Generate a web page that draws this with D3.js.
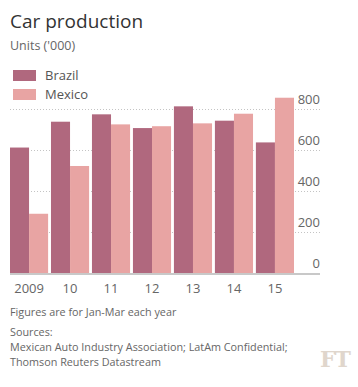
<!DOCTYPE html>
<html><head><meta charset="utf-8">
<script src="https://cdn.jsdelivr.net/npm/d3@7"></script>
<style>
body{margin:0;background:#fff;}
svg{display:block;font-family:"Open Sans",sans-serif;}
</style></head>
<body>
<script>
const years = ["2009","10","11","12","13","14","15"];
const brazil = [612, 738, 774, 707, 813, 743, 637];
const mexico = [289, 522, 725, 716, 730, 777, 855];
const yTicks = [0, 200, 400, 600, 800];
const seriesNames = ["Brazil", "Mexico"];
const colors = ["#b0687e", "#e8a4a3"];

const W = 358, H = 387;
const svg = d3.select("body").append("svg").attr("width", W).attr("height", H);

const x0 = d3.scaleBand().domain(years).range([10, 294]).paddingInner(0.07).paddingOuter(0);
const x1 = d3.scaleBand().domain(seriesNames).range([0, x0.bandwidth()]);
const y = d3.scaleLinear().domain([0, 800]).range([273, 109]);

// title
svg.append("text").attr("x", 10).attr("y", 28).attr("font-size", 19).attr("fill", "#333").text("Car production");
svg.append("text").attr("x", 10).attr("y", 50).attr("font-size", 12.5).attr("fill", "#666").text("Units ('000)");

// legend
seriesNames.forEach((s, i) => {
  svg.append("rect").attr("x", 13).attr("y", 70 + i * 19).attr("width", 23).attr("height", 11).attr("fill", colors[i]);
  svg.append("text").attr("x", 45).attr("y", 80 + i * 19).attr("font-size", 13).attr("fill", "#555").text(s);
});

// grid
const yAxis = d3.axisRight(y).tickValues(yTicks).tickSize(0).tickFormat(d3.format("d"));
const g = svg.append("g").attr("transform", "translate(320,0)").call(yAxis);
g.select(".domain").remove();
g.selectAll("text").attr("x", 0).attr("dy", "-0.45em").attr("text-anchor", "end")
  .attr("font-size", 13).attr("fill", "#666").attr("font-family", "Open Sans, sans-serif");
svg.append("g").selectAll("line").data(yTicks.filter(d => d > 0)).join("line")
  .attr("x1", 10).attr("x2", 320).attr("y1", d => y(d) + 0.5).attr("y2", d => y(d) + 0.5)
  .attr("stroke", "#c4c4c4").attr("stroke-width", 1).attr("stroke-dasharray", "1,2");

// bars
const data = years.map((yr, i) => ({yr, vals: [brazil[i], mexico[i]]}));
svg.append("g").selectAll("g").data(data).join("g")
  .attr("transform", d => `translate(${x0(d.yr)},0)`)
  .selectAll("rect").data(d => d.vals.map((v, i) => ({v, s: seriesNames[i], i})))
  .join("rect")
  .attr("x", d => x1(d.s)).attr("width", x1.bandwidth())
  .attr("y", d => y(d.v)).attr("height", d => y(0) - y(d.v))
  .attr("fill", d => colors[d.i]);

// baseline
svg.append("line").attr("x1", 10).attr("x2", 320).attr("y1", 274).attr("y2", 274)
  .attr("stroke", "#c8c8c8").attr("stroke-width", 2);

// x axis
const xAxis = d3.axisBottom(x0).tickSize(0);
const gx = svg.append("g").attr("transform", "translate(0,276)").call(xAxis);
gx.select(".domain").remove();
gx.selectAll("text").attr("font-size", 13).attr("fill", "#666").attr("dy", "1.05em")
  .attr("font-family", "Open Sans, sans-serif");

// footer
const foot = [["Figures are for Jan-Mar each year", 316], ["Sources:", 336], ["Mexican Auto Industry Association; LatAm Confidential;", 351], ["Thomson Reuters Datastream", 366]];
foot.forEach(([t, yy]) => svg.append("text").attr("x", 10).attr("y", yy).attr("font-size", 10.8).attr("fill", "#666").text(t));

svg.append("text").attr("x", 350).attr("y", 367).attr("text-anchor", "end").attr("font-size", 22)
  .attr("font-family", "DejaVu Serif, serif").attr("font-weight", "bold").attr("fill", "#e0d6cc").attr("letter-spacing", "-1").text("FT");
</script>
</body></html>
